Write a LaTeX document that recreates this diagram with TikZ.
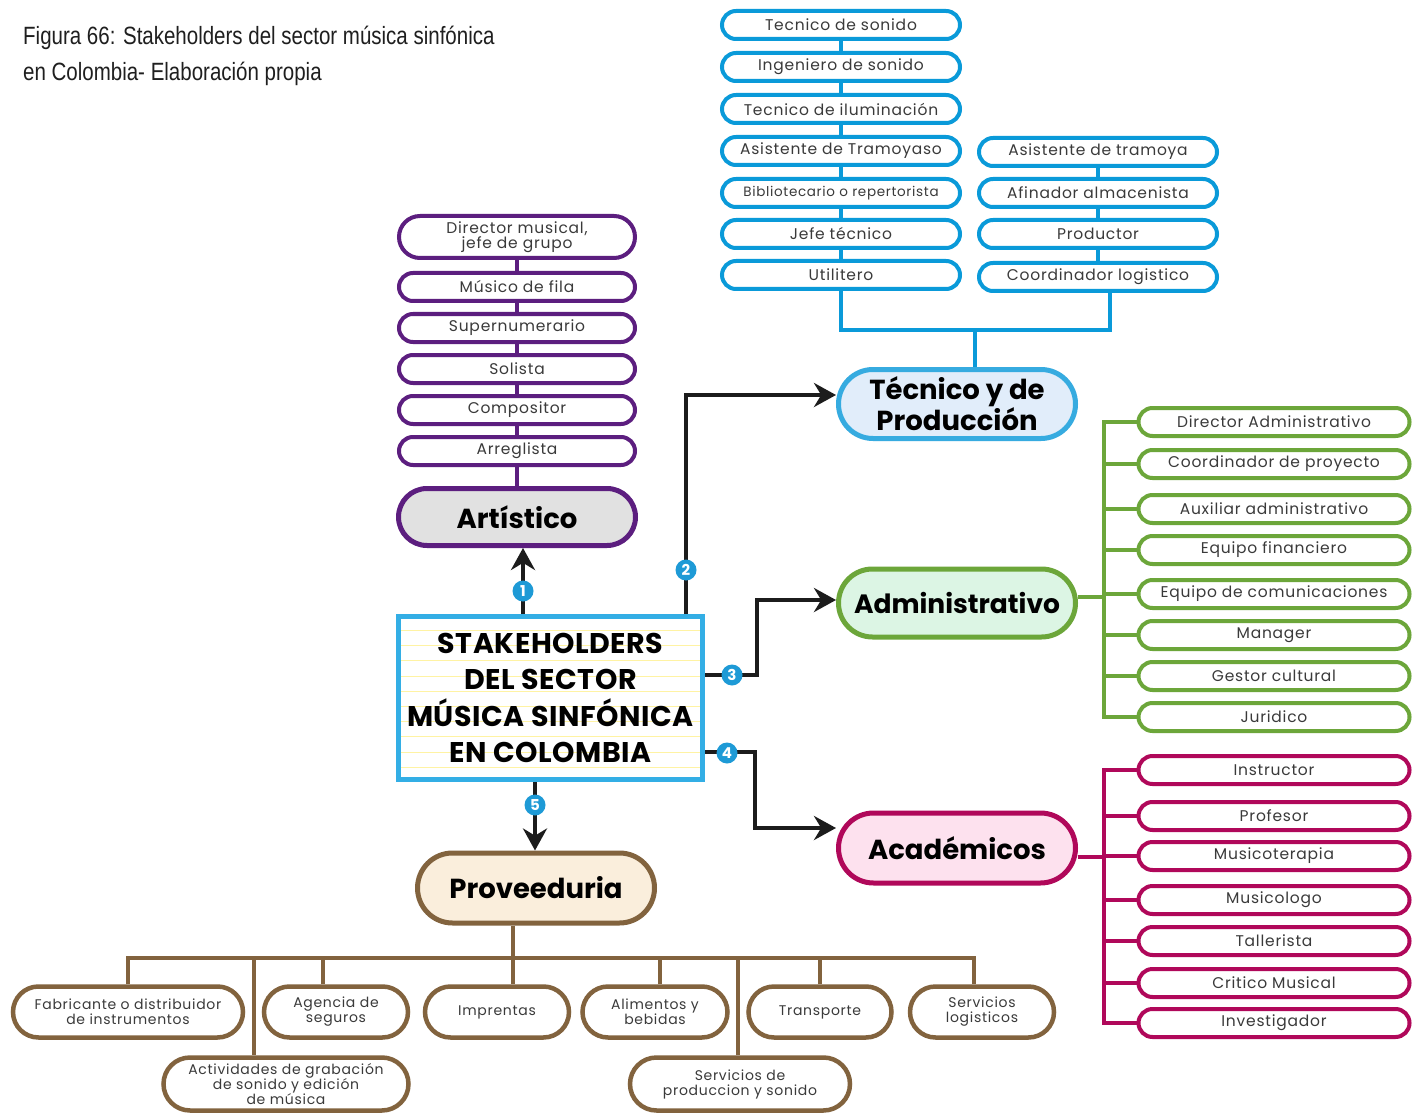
\documentclass[tikz,border=0pt]{standalone}
\usepackage{fontspec}
\setmainfont{Poppins}
\newfontfamily\capfont[FakeStretch=0.82]{Liberation Sans}
\newfontfamily\boxfont[LetterSpace=5]{Poppins}
\newfontfamily\hubfont[LetterSpace=2]{Poppins}
\usepackage{xcolor}
\usepackage{tikz}
\usetikzlibrary{arrows.meta,calc,positioning,shapes.misc}
\definecolor{techblue}{HTML}{0A9AD9}
\definecolor{techmain}{HTML}{36ABE0}
\definecolor{techfill}{HTML}{E1EDFA}
\definecolor{artpurple}{HTML}{5C1E7F}
\definecolor{artfill}{HTML}{E1E1E1}
\definecolor{admgreen}{HTML}{6CA63A}
\definecolor{admfill}{HTML}{DCF5E4}
\definecolor{acadred}{HTML}{B0085A}
\definecolor{acadfill}{HTML}{FDE1EE}
\definecolor{provbrown}{HTML}{82633E}
\definecolor{provfill}{HTML}{FAEEDC}
\definecolor{hubblue}{HTML}{33AEE5}
\definecolor{stripe}{HTML}{FFF3A3}
\definecolor{badgeblue}{HTML}{1E9AD6}
\definecolor{arrowblack}{HTML}{1C1C1C}
\definecolor{textgray}{HTML}{3A3A3A}
\tikzset{
  itembox/.style={
    rounded rectangle,
    draw,
    line width=4pt,
    fill=white,
    minimum width=238pt,
    minimum height=28pt,
    inner sep=0pt,
    align=center,
    text=textgray,
    font=\boxfont\fontsize{15.5}{15.5}\selectfont
  },
  techitem/.style={itembox, draw=techblue},
  artitem/.style={itembox, draw=artpurple, minimum width=236pt},
  admitem/.style={itembox, draw=admgreen, minimum width=271pt},
  acaditem/.style={itembox, draw=acadred, minimum width=271pt},
  provitem/.style={itembox, draw=provbrown, line width=4.5pt, minimum height=51pt,
    font=\boxfont\fontsize{14}{15}\selectfont},
  category/.style={
    rounded rectangle,
    line width=5pt,
    minimum width=237pt,
    minimum height=69pt,
    inner sep=0pt,
    align=center,
    text=black,
    font=\fontsize{27.5}{31}\selectfont\bfseries
  },
  hub/.style={
    rectangle,
    draw=hubblue,
    line width=5pt,
    fill=white,
    minimum width=304pt,
    minimum height=163pt,
    inner sep=0pt,
    align=center,
    font=\hubfont\fontsize{28.5}{36.5}\selectfont\bfseries,
    path picture={
      \foreach \k in {0,...,9}
        \draw[stripe, line width=1pt]
          ([yshift=-14pt-\k*15.2pt]path picture bounding box.north west) --
          ([yshift=-14pt-\k*15.2pt]path picture bounding box.north east);
    }
  },
  badge/.style={circle, fill=badgeblue, text=white, minimum size=21pt, inner sep=0pt,
    font=\fontsize{15}{15}\selectfont\bfseries},
  techline/.style={draw=techblue, line width=4pt},
  artline/.style={draw=artpurple, line width=4pt},
  admline/.style={draw=admgreen, line width=4pt},
  acadline/.style={draw=acadred, line width=4pt},
  provline/.style={draw=provbrown, line width=4pt},
  mainarrow/.style={draw=arrowblack, line width=4pt, -{Stealth[length=22pt,width=24pt]}},
  caption/.style={font=\capfont\fontsize{25}{25}\selectfont, text=black!88, anchor=base west, inner sep=0pt}
}

\begin{document}
\begin{tikzpicture}[x=1pt,y=-1pt]
\path[use as bounding box, fill=white] (0,0) rectangle (1424,1115);

\node[caption] (cap1) at (23,45) {Figura 66: Stakeholders del sector música sinfónica};
\node[caption] (cap2) at (23,81) {en Colombia- Elaboración propia};

% centre
\node[hub] (hub) at (550.5,698) {STAKEHOLDERS\\DEL SECTOR\\MÚSICA SINFÓNICA\\EN COLOMBIA};

% categories
\node[category, draw=artpurple, fill=artfill, minimum height=57pt] (art) at (517,517) {Artístico};
\node[category, draw=techmain, fill=techfill] (tec) at (957,404) {Técnico y de\\Producción};
\node[category, draw=admgreen, fill=admfill, minimum height=68pt, font=\fontsize{26.5}{31}\selectfont\bfseries] (adm) at (957,603) {Administrativo};
\node[category, draw=acadred, fill=acadfill, minimum height=70pt] (acad) at (957,848) {Académicos};
\node[category, draw=provbrown, fill=provfill, minimum height=70pt] (prov) at (536,888) {Proveeduria};

% artistic roles
\node[artitem, minimum height=42pt] (a1) at (517,237) {Director musical,\\jefe de grupo};
\node[artitem] (a2) at (517,287) {Músico de fila};
\node[artitem] (a3) at (517,328) {Supernumerario};
\node[artitem] (a4) at (517,369) {Solista};
\node[artitem] (a5) at (517,410) {Compositor};
\node[artitem] (a6) at (517,451) {Arreglista};

% technical roles
\node[techitem] (t1) at (841,25) {Tecnico de sonido};
\node[techitem] (t2) at (841,67) {Ingeniero de sonido};
\node[techitem] (t3) at (841,109) {Tecnico de iluminación};
\node[techitem] (t4) at (841,151) {Asistente de Tramoyaso};
\node[techitem, font=\boxfont\fontsize{13.5}{14}\selectfont] (t5) at (841,193) {Bibliotecario o repertorista};
\node[techitem] (t6) at (841,234) {Jefe técnico};
\node[techitem] (t7) at (841,275) {Utilitero};
\node[techitem] (r1) at (1098,152) {Asistente de tramoya};
\node[techitem] (r2) at (1098,193) {Afinador almacenista};
\node[techitem] (r3) at (1098,234) {Productor};
\node[techitem] (r4) at (1098,277) {Coordinador logistico};
\coordinate (tjoin) at (975,330);

% administrative roles
\node[admitem] (d1) at (1274,422) {Director Administrativo};
\node[admitem] (d2) at (1274,464) {Coordinador de proyecto};
\node[admitem] (d3) at (1274,509) {Auxiliar administrativo};
\node[admitem] (d4) at (1274,550) {Equipo financiero};
\node[admitem] (d5) at (1274,594) {Equipo de comunicaciones};
\node[admitem] (d6) at (1274,635) {Manager};
\node[admitem] (d7) at (1274,676) {Gestor cultural};
\node[admitem] (d8) at (1274,717) {Juridico};
\coordinate (dbus) at (1104,600);

% academic roles
\node[acaditem] (c1) at (1274,770) {Instructor};
\node[acaditem] (c2) at (1274,816) {Profesor};
\node[acaditem] (c3) at (1274,856) {Musicoterapia};
\node[acaditem] (c4) at (1274,900) {Musicologo};
\node[acaditem] (c5) at (1274,941) {Tallerista};
\node[acaditem] (c6) at (1274,983) {Critico Musical};
\node[acaditem] (c7) at (1274,1023) {Investigador};
\coordinate (cbus) at (1104,857);

% suppliers
\node[provitem, minimum width=230pt] (fab) at (128,1012) {Fabricante o distribuidor\\de instrumentos};
\node[provitem, minimum width=144pt] (seg) at (336,1012) {Agencia de\\seguros};
\node[provitem, minimum width=144pt] (imp) at (497,1012) {Imprentas};
\node[provitem, minimum width=145pt] (ali) at (655,1012) {Alimentos y\\bebidas};
\node[provitem, minimum width=143pt] (tra) at (820,1012) {Transporte};
\node[provitem, minimum width=144pt] (log) at (982,1012) {Servicios\\logisticos};
\node[provitem, minimum width=245pt, minimum height=53pt] (gra) at (286,1084) {Actividades de grabación\\de sonido y edición\\de música};
\node[provitem, minimum width=220pt, minimum height=53pt] (son) at (740,1084) {Servicios de\\produccion y sonido};
\coordinate (pjoin) at (513,958);
\coordinate (gjoin) at (254,958);

% group connectors
\draw[artline] (a1) -- (a2) -- (a3) -- (a4) -- (a5) -- (a6) -- (art);
\draw[techline] (t1) -- (t2) -- (t3) -- (t4) -- (t5) -- (t6) -- (t7);
\draw[techline] (r1) -- (r2) -- (r3) -- (r4);
\draw[techline] (t7.south) |- (tjoin) -| ([xshift=12pt]r4.south);
\draw[techline] (tjoin) -- (tjoin |- tec.north);

\draw[admline] (d1.west) -| (d8.west -| dbus) -- (d8.west);
\draw[admline] (d2.west -| dbus) -- (d2.west);
\draw[admline] (d3.west -| dbus) -- (d3.west);
\draw[admline] (d4.west -| dbus) -- (d4.west);
\draw[admline] (d5.west -| dbus) -- (d5.west);
\draw[admline] (d6.west -| dbus) -- (d6.west);
\draw[admline] (d7.west -| dbus) -- (d7.west);
\draw[admline] ([yshift=6pt]adm.east) -- ([yshift=6pt]adm.east -| dbus);

\draw[acadline] (c1.west) -| (c7.west -| cbus) -- (c7.west);
\draw[acadline] (c2.west -| cbus) -- (c2.west);
\draw[acadline] (c3.west -| cbus) -- (c3.west);
\draw[acadline] (c4.west -| cbus) -- (c4.west);
\draw[acadline] (c5.west -| cbus) -- (c5.west);
\draw[acadline] (c6.west -| cbus) -- (c6.west);
\draw[acadline] ([yshift=-9pt]acad.east) -- ([yshift=-9pt]acad.east -| cbus);

\draw[provline] (pjoin |- prov.south) -- (pjoin);
\draw[provline] (fab.north) |- (pjoin) -| ([xshift=-8pt]log.north);
\draw[provline] ([xshift=-13pt]seg.north) -- ([xshift=-13pt]seg.north |- pjoin);
\draw[provline] (pjoin) -- (pjoin |- imp.north);
\draw[provline] ([xshift=5pt]ali.north) -- ([xshift=5pt]ali.north |- pjoin);
\draw[provline] (tra.north) -- (tra.north |- pjoin);
\draw[provline] (gjoin) -- (gjoin |- gra.north);
\draw[provline] ([xshift=-2pt]son.north) -- ([xshift=-2pt]son.north |- pjoin);

% main arrows
\draw[mainarrow] ([xshift=-27.5pt]hub.north) -- ([xshift=-27.5pt]hub.north |- art.south);
\draw[mainarrow] ([xshift=135.5pt]hub.north) |- ([yshift=9pt]tec.west);
\draw[mainarrow] ([yshift=23pt]hub.east) -- ++(52,0) |- ([yshift=3pt]adm.west);
\draw[mainarrow] ([yshift=-54pt]hub.east) -- ++(50,0) |- ([yshift=20pt]acad.west);
\draw[mainarrow] ([xshift=-15.5pt]hub.south) -- ([xshift=-15.5pt]hub.south |- prov.north);

\node[badge] (n1) at (523,591) {1};
\node[badge] (n2) at (686,570) {2};
\node[badge] (n3) at (732,675) {3};
\node[badge] (n4) at (727,753) {4};
\node[badge] (n5) at (535,805) {5};

\end{tikzpicture}
\end{document}
